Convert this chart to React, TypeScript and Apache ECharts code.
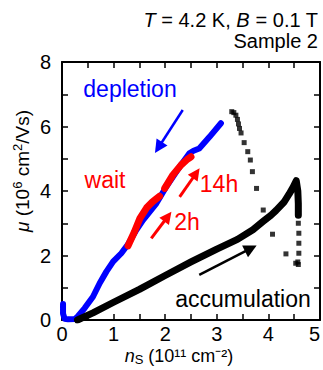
import { useEffect, useRef } from 'react';
import * as echarts from 'echarts';

const FONT = '"Liberation Sans", Arial, Helvetica, sans-serif';

const X_MIN = 0;
const X_MAX = 5;
const X_STEP = 1;
const Y_MIN = 0;
const Y_MAX = 8;
const Y_STEP = 2;

// accumulation sweep (dense, drawn as thick black band), n_S vs mu
const accumulation: number[][] = [
  [0.3, 0.0], [0.6, 0.22], [1.0, 0.55], [1.5, 0.95], [2.0, 1.38], [2.5, 1.8],
  [3.0, 2.2], [3.4, 2.5], [3.7, 2.8], [3.9, 3.06], [4.05, 3.25], [4.15, 3.4],
  [4.3, 3.65], [4.4, 3.9], [4.48, 4.12], [4.54, 4.32], [4.57, 4.0], [4.58, 3.6],
  [4.58, 3.25],
];

// sparse return sweep (black squares)
const returnSweep: number[][] = [
  [4.58, 3.0], [4.59, 2.69], [4.59, 2.38], [4.59, 2.07], [4.57, 1.8], [4.58, 1.72],
  [4.53, 1.76], [4.34, 2.05], [4.08, 2.66], [3.9, 3.41], [3.77, 4.08], [3.69, 4.6],
  [3.65, 4.96], [3.6, 5.22], [3.53, 5.5], [3.47, 5.8], [3.44, 5.94], [3.42, 6.08],
  [3.4, 6.22], [3.37, 6.35], [3.33, 6.43], [3.29, 6.46],
];

// depletion sweep (blue)
const depletion: number[][] = [
  [3.08, 6.1], [2.86, 5.68], [2.66, 5.32], [2.55, 5.25], [2.47, 5.17], [2.28, 4.75],
  [2.02, 4.13], [1.83, 3.62], [1.57, 3.1], [1.44, 2.79], [1.28, 2.35], [1.15, 2.07],
  [0.99, 1.81], [0.86, 1.5], [0.73, 1.14], [0.6, 0.72], [0.44, 0.37], [0.3, 0.1],
  [0.25, 0.03], [0.12, 0.02], [0.05, 0.04], [0.02, 0.2], [0.02, 0.5],
];

// after waiting 2h and 14h (red)
const wait2h: number[][] = [
  [1.28, 2.3], [1.4, 2.72], [1.51, 3.15], [1.64, 3.48], [1.75, 3.66], [1.89, 3.84],
];
const wait14h: number[][] = [
  [1.99, 4.08], [2.15, 4.5], [2.31, 4.81], [2.42, 4.97], [2.5, 5.06],
];

// annotation arrows [start, end] in data units
const arrowDepletion = [[2.34, 6.51], [1.87, 5.35]];
const arrow14h = [[2.28, 3.82], [2.6, 4.55]];
const arrow2h = [[1.73, 2.53], [2.05, 3.21]];
const arrowAccumulation = [[2.66, 1.4], [3.66, 2.22]];

const BLUE = '#0000ff';
const RED = '#ff0000';
const BLACK = '#000000';

function arrowSeries(coords: number[][], color: string, width: number, head: number) {
  return {
    type: 'lines',
    coordinateSystem: 'cartesian2d',
    xAxisIndex: 0,
    yAxisIndex: 0,
    z: 5,
    symbol: ['none', 'triangle'],
    symbolSize: head,
    lineStyle: { color, width, opacity: 1, curveness: 0 },
    itemStyle: { color },
    data: [{ coords }],
    silent: true,
  };
}

function axisCommon(position: string, min: number, max: number, step: number, showLabel: boolean, isX: boolean) {
  return {
    type: 'value',
    position,
    min,
    max,
    interval: step,
    axisLine: { show: true, onZero: false, lineStyle: { color: BLACK, width: 2 } },
    axisTick: { show: true, inside: true, length: 6, lineStyle: { color: BLACK, width: 1.5 } },
    minorTick: { show: true, splitNumber: 2, length: 6, lineStyle: { color: BLACK, width: 1.5 } },
    splitLine: { show: false },
    minorSplitLine: { show: false },
    axisLabel: showLabel
      ? {
          show: true,
          color: BLACK,
          fontFamily: FONT,
          fontSize: 20,
          lineHeight: 16,
          margin: isX ? 6 : 11,
          ...(isX ? { alignMaxLabel: 'right' } : {}),
        }
      : { show: false },
  };
}

export default function App() {
  const ref = useRef<HTMLDivElement>(null);

  useEffect(() => {
    document.body.style.margin = '0';
    if (!ref.current) return;
    const chart = echarts.init(ref.current, undefined, { renderer: 'svg' });

    const supStyle = (size: number) => ({ fontSize: size, fontFamily: FONT, lineHeight: 14, verticalAlign: 'top', fill: BLACK, color: BLACK });
    const subStyle = (size: number) => ({ fontSize: size, fontFamily: FONT, lineHeight: 14, verticalAlign: 'bottom', fill: BLACK, color: BLACK });
    const italic = (size: number) => ({ fontSize: size, fontFamily: FONT, fontStyle: 'italic', fill: BLACK, color: BLACK });

    chart.setOption({
      animation: false,
      backgroundColor: '#ffffff',
      grid: { left: 62, top: 62, right: 2, bottom: 50, containLabel: false },
      xAxis: [
        axisCommon('bottom', X_MIN, X_MAX, X_STEP, true, true),
        axisCommon('top', X_MIN, X_MAX, X_STEP, false, true),
      ],
      yAxis: [
        axisCommon('left', Y_MIN, Y_MAX, Y_STEP, true, false),
        axisCommon('right', Y_MIN, Y_MAX, Y_STEP, false, false),
      ],
      series: [
        {
          type: 'line',
          name: 'depletion',
          data: depletion,
          showSymbol: false,
          symbol: 'none',
          lineStyle: { color: BLUE, width: 6, cap: 'round', join: 'round' },
          z: 2,
        },
        {
          type: 'line',
          name: 'wait 2h',
          data: wait2h,
          symbol: 'none',
          lineStyle: { color: RED, width: 7, cap: 'round', join: 'round' },
          z: 3,
        },
        {
          type: 'line',
          name: 'wait 14h',
          data: wait14h,
          symbol: 'none',
          lineStyle: { color: RED, width: 7, cap: 'round', join: 'round' },
          z: 3,
        },
        {
          type: 'line',
          name: 'accumulation',
          data: accumulation,
          symbol: 'none',
          lineStyle: { color: BLACK, width: 7, cap: 'round', join: 'round' },
          z: 4,
        },
        {
          type: 'scatter',
          name: 'return',
          data: returnSweep,
          symbol: 'rect',
          symbolSize: 5,
          itemStyle: { color: BLACK },
          z: 4,
        },
        arrowSeries(arrowDepletion, BLUE, 2.5, 13),
        arrowSeries(arrow14h, RED, 3, 12),
        arrowSeries(arrow2h, RED, 3, 12),
        arrowSeries(arrowAccumulation, BLACK, 2.5, 13),
      ],
      graphic: [
        {
          type: 'text',
          x: 318,
          y: 20,
          style: {
            text: '{i|T} = 4.2 K, {i|B} = 0.1 T',
            rich: { i: italic(20) },
            fontSize: 20,
            fontFamily: FONT,
            fill: BLACK,
            textAlign: 'right',
            textVerticalAlign: 'middle',
          },
        },
        {
          type: 'text',
          x: 318,
          y: 41,
          style: {
            text: 'Sample 2',
            fontSize: 20,
            fontFamily: FONT,
            fill: BLACK,
            textAlign: 'right',
            textVerticalAlign: 'middle',
          },
        },
        {
          type: 'text',
          x: 130,
          y: 89,
          style: { text: 'depletion', fontSize: 23, fontFamily: FONT, fill: BLUE, textAlign: 'center', textVerticalAlign: 'middle' },
        },
        {
          type: 'text',
          x: 105,
          y: 180,
          style: { text: 'wait', fontSize: 23, fontFamily: FONT, fill: RED, textAlign: 'center', textVerticalAlign: 'middle' },
        },
        {
          type: 'text',
          x: 219,
          y: 184,
          style: { text: '14h', fontSize: 23, fontFamily: FONT, fill: RED, textAlign: 'center', textVerticalAlign: 'middle' },
        },
        {
          type: 'text',
          x: 187,
          y: 222,
          style: { text: '2h', fontSize: 23, fontFamily: FONT, fill: RED, textAlign: 'center', textVerticalAlign: 'middle' },
        },
        {
          type: 'text',
          x: 243,
          y: 299,
          style: { text: 'accumulation', fontSize: 23, fontFamily: FONT, fill: BLACK, textAlign: 'center', textVerticalAlign: 'middle' },
        },
        {
          type: 'text',
          x: 179,
          y: 356,
          style: {
            text: '{i|n}{sub|S} (10¹¹ cm⁻²)',
            rich: { i: italic(18), sub: subStyle(13) },
            fontSize: 18,
            fontFamily: FONT,
            lineHeight: 19,
            fill: BLACK,
            textAlign: 'center',
            textVerticalAlign: 'middle',
          },
        },
        {
          type: 'text',
          x: 22,
          y: 171,
          rotation: Math.PI / 2,
          style: {
            text: '{i|μ} (10{sup|6} cm{sup|2}/Vs)',
            rich: { i: italic(19), sup: supStyle(13) },
            fontSize: 19,
            fontFamily: FONT,
            lineHeight: 22,
            fill: BLACK,
            textAlign: 'center',
            textVerticalAlign: 'middle',
          },
        },
      ],
    });

    return () => chart.dispose();
  }, []);

  return <div ref={ref} style={{ width: 323, height: 370 }} />;
}
